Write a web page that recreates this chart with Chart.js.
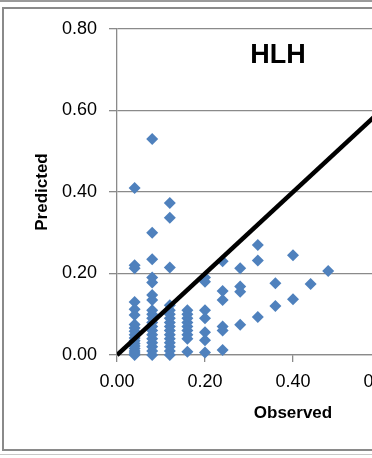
<!DOCTYPE html>
<html>
<head>
<meta charset="utf-8">
<script src="https://cdn.jsdelivr.net/npm/chart.js@4/dist/chart.umd.min.js"></script>
<style>
  html, body { margin: 0; padding: 0; background: #fff; }
  #wrap { position: relative; width: 372px; height: 458px; overflow: hidden; background: #fff; }
  #topline { position: absolute; left: 0; top: 0; width: 372px; height: 2px; background: #9a9a9a; }
  #botline { position: absolute; left: 0; top: 454px; width: 372px; height: 1px; background: #c8c8c8; }
  #frame { position: absolute; left: 2px; top: 7px; width: 600px; height: 444px; border: 2px solid #8a8a8a; box-sizing: border-box; }
  #c { position: absolute; left: 0; top: 0; }
  #title { position: absolute; left: 200px; top: 36px; width: 156px; text-align: center;
           font: bold 27px "Liberation Sans", Arial, sans-serif; color: #000; line-height: 36px; }
</style>
</head>
<body>
<div id="wrap">
  <div id="topline"></div>
  <div id="frame"></div>
  <div id="botline"></div>
  <canvas id="c" width="560" height="458"></canvas>
  <div id="title">HLH</div>
</div>
<script>
// Chart title and axis titles
const chartTitle = 'HLH';
const xAxisTitle = 'Observed';
const yAxisTitle = 'Predicted';

// Observed levels (x categories of the scatter columns)
const observedLevels = [0.04, 0.08, 0.12, 0.16, 0.20, 0.24, 0.28, 0.32, 0.36, 0.40, 0.44, 0.48];

// Predicted values read at each observed level
const predictedAt004 = [0.41, 0.22, 0.213, 0.13, 0.112, 0.098, 0.075, 0.066, 0.058, 0.05, 0.042, 0.035, 0.028, 0.022, 0.016, 0.01, 0.005, 0.0];
const predictedAt008 = [0.53, 0.30, 0.235, 0.19, 0.178, 0.147, 0.135, 0.11, 0.10, 0.09, 0.08, 0.07, 0.06, 0.05, 0.04, 0.03, 0.02, 0.01, 0.0];
const predictedAt012 = [0.373, 0.337, 0.215, 0.122, 0.11, 0.10, 0.09, 0.08, 0.07, 0.06, 0.05, 0.04, 0.03, 0.02, 0.01, 0.0];
const predictedAt016 = [0.11, 0.10, 0.09, 0.08, 0.07, 0.06, 0.05, 0.04, 0.008];
const predictedAt020 = [0.19, 0.18, 0.11, 0.09, 0.056, 0.036, 0.006];
const predictedAt024 = [0.23, 0.157, 0.135, 0.07, 0.06, 0.012];
const predictedAt028 = [0.213, 0.168, 0.155, 0.074];
const predictedAt032 = [0.27, 0.232, 0.093];
const predictedAt036 = [0.176, 0.12];
const predictedAt040 = [0.245, 0.137];
const predictedAt044 = [0.174];
const predictedAt048 = [0.206];

const predictedByLevel = [predictedAt004, predictedAt008, predictedAt012, predictedAt016, predictedAt020,
  predictedAt024, predictedAt028, predictedAt032, predictedAt036, predictedAt040, predictedAt044, predictedAt048];

// 1:1 reference line end points
const lineX = [0.0, 0.8];
const lineY = [0.0, 0.8];

// Axis tick values
const tickValues = [0.0, 0.2, 0.4, 0.6, 0.8];

const scatterPoints = [];
observedLevels.forEach((ox, i) => {
  predictedByLevel[i].forEach(py => scatterPoints.push({ x: ox, y: py }));
});
const linePoints = lineX.map((x, i) => ({ x: x, y: lineY[i] }));

document.getElementById('title').textContent = chartTitle;

const gridColor = '#8a8a8a';
const tickFont = { family: '"Liberation Sans", Arial, sans-serif', size: 18 };
const titleFont = { family: '"Liberation Sans", Arial, sans-serif', size: 17, weight: 'bold' };

new Chart(document.getElementById('c'), {
  type: 'scatter',
  data: {
    datasets: [
      {
        type: 'line',
        data: linePoints,
        borderColor: '#000000',
        borderWidth: 4.5,
        pointRadius: 0,
        fill: false,
        order: 0,
        clip: { left: 0, top: 0, right: 0, bottom: 4 }
      },
      {
        data: scatterPoints,
        pointStyle: 'rectRot',
        pointRadius: 6,
        pointHoverRadius: 6,
        backgroundColor: '#4F81BD',
        borderColor: '#4F81BD',
        borderWidth: 0,
        order: 1,
        clip: false
      }
    ]
  },
  options: {
    responsive: false,
    animation: false,
    devicePixelRatio: 1,
    layout: { padding: { left: 28, top: 29, right: 91, bottom: 0 } },
    plugins: { legend: { display: false }, tooltip: { enabled: false }, title: { display: false } },
    scales: {
      x: {
        type: 'linear',
        min: 0, max: 0.8,
        afterBuildTicks: s => { s.ticks = tickValues.map(v => ({ value: v })); },
        afterFit: s => { s.height = 103; },
        ticks: { color: '#000', font: tickFont, padding: 9, maxRotation: 0, callback: v => Number(v).toFixed(2) },
        grid: { drawOnChartArea: false, drawTicks: true, tickLength: 7, color: gridColor, lineWidth: 1.3 },
        border: { display: true, color: gridColor, width: 1.3 },
        title: { display: true, text: xAxisTitle, color: '#000', font: titleFont, padding: { top: 0, bottom: 34 } }
      },
      y: {
        type: 'linear',
        min: 0, max: 0.8,
        afterBuildTicks: s => { s.ticks = tickValues.map(v => ({ value: v })); },
        afterFit: s => { s.width = 117 - 28; },
        ticks: { color: '#000', font: tickFont, padding: 12, callback: v => Number(v).toFixed(2) },
        grid: { drawTicks: true, tickLength: 8, color: gridColor, lineWidth: 1.3 },
        border: { display: true, color: gridColor, width: 1.3 },
        title: { display: true, text: yAxisTitle, color: '#000', font: titleFont, padding: { top: 4, bottom: 0 } }
      }
    }
  }
});
</script>
</body>
</html>
